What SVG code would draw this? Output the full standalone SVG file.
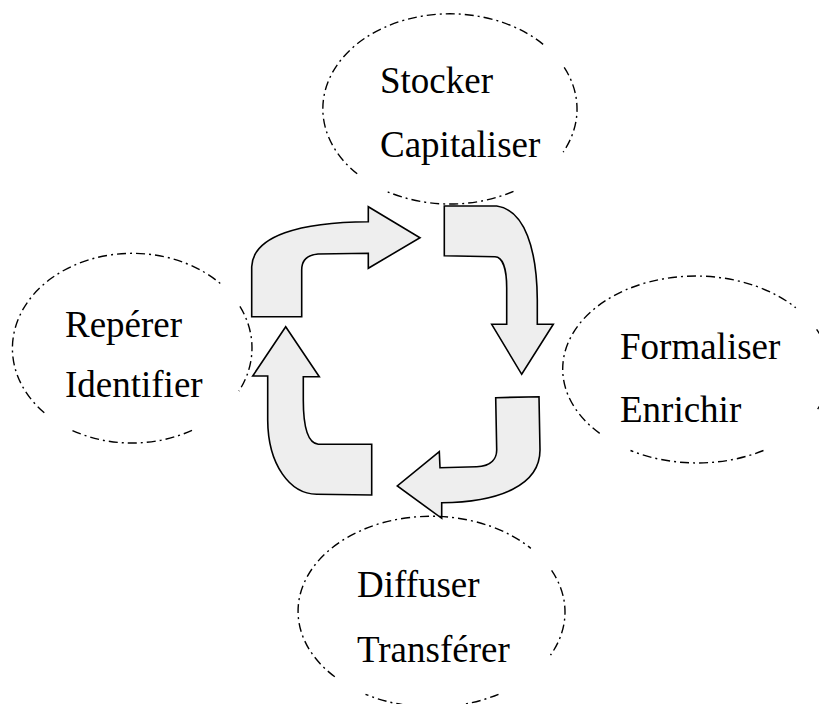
<svg xmlns="http://www.w3.org/2000/svg" width="819" height="704" viewBox="0 0 819 704">
<style>
.ell{fill:none;stroke:#000;stroke-width:1.4;stroke-dasharray:9 4 2 4}
.arr{fill:#eeeeee;stroke:#000;stroke-width:1.6;stroke-linejoin:miter}
.lbl{font-family:"Liberation Serif","Times New Roman",serif;font-size:37px;fill:#000}
</style>
<rect width="819" height="704" fill="#fff"/>
<g id="connectors">
<path class="arr" d="M251.7,316.7 L251.7,266.7 C253,236 300,222 368.3,221.7 L368.3,206.7 L420,237.7 L368.3,268.3 L368.3,253.3 L318,254 C306,255 301.7,262 301.7,270 L301.7,316.7 Z"/>
<path class="arr" d="M444.3,206 L496.7,206 C525,210 537,250 537.3,300 L537.3,324.3 L553.3,324.3 L521.7,374.3 L491.7,324.3 L506.7,324.3 L506.7,288 C506.7,270 503,257 495,256.7 L444.3,255.7 Z"/>
<path class="arr" d="M495.7,397.7 L539,396.7 L540,450 C540,485 500,502 441.7,502.7 L441.7,518.3 L397.3,486 L439.3,451.7 L440,467.7 L476.7,466.7 C492,466 496.7,458 496.7,450 Z"/>
<path class="arr" d="M371.7,495 L371.7,444.3 L318.3,444.3 C306,443 303.3,420 303.3,400 L303.3,376.7 L319.3,376.7 L285.7,326.7 L252.7,376 L267.7,376 L267.7,420 C268,465 290,494 316.7,494.3 Z"/>
</g>
<g id="node-stocker">
<path class="ell" d="M564.2,67.4 A127,95 0 0 1 563.2,152.1 M513.5,191.3 A127,95 0 0 1 386.5,191.3 M357.2,173.8 A127,95 0 1 1 544.4,45.4"/>
<text class="lbl" x="380" y="93">Stocker</text>
<text class="lbl" x="380" y="157">Capitaliser</text>
</g>
<g id="node-formaliser">
<path class="ell" d="M816.6,329.3 A133,93 0 0 1 815.5,412.2 M763.5,450.5 A133,93 0 0 1 630.5,450.5 M599.7,433.4 A133,93 0 1 1 795.8,307.8"/>
<text class="lbl" x="620" y="359">Formaliser</text>
<text class="lbl" x="620" y="422">Enrichir</text>
</g>
<g id="node-diffuser">
<path class="ell" d="M551.6,570.4 A133,95 0 0 1 550.5,655.1 M498.5,694.3 A133,95 0 0 1 365.5,694.3 M334.8,676.8 A133,95 0 1 1 530.8,548.4"/>
<text class="lbl" x="357" y="597">Diffuser</text>
<text class="lbl" x="357" y="662">Transférer</text>
</g>
<g id="node-reperer">
<path class="ell" d="M239.9,306.4 A120,95 0 0 1 238.9,391.1 M192,430.3 A120,95 0 0 1 72,430.3 M44.3,412.8 A120,95 0 1 1 221.2,284.4"/>
<text class="lbl" x="65" y="337">Repérer</text>
<text class="lbl" x="65" y="397">Identifier</text>
</g>
</svg>
